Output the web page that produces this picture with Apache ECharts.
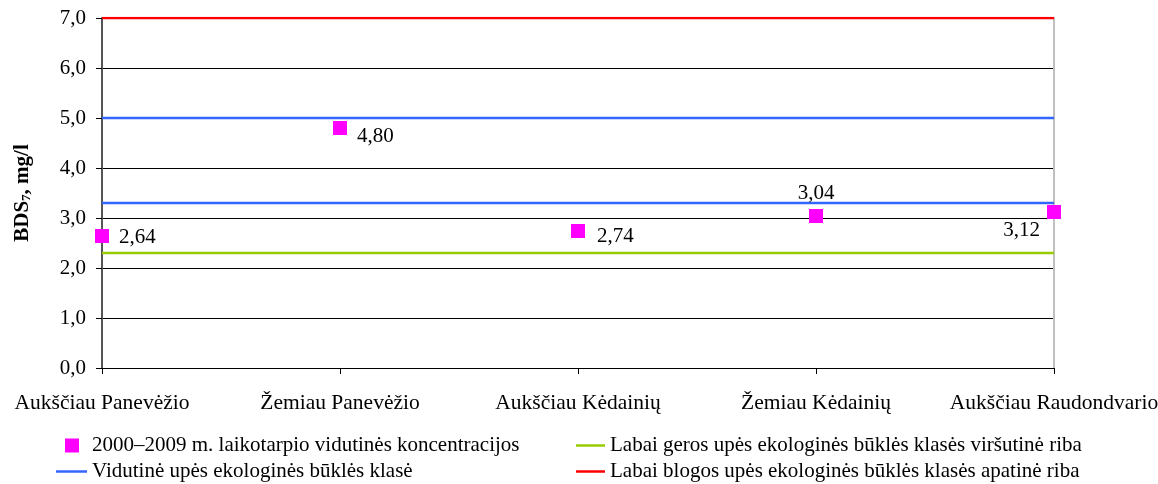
<!DOCTYPE html>
<html>
<head>
<meta charset="utf-8">
<script src="https://cdn.jsdelivr.net/npm/echarts@6/dist/echarts.min.js"></script>
<style>
  html, body { margin: 0; padding: 0; background: #fff; }
  #main { width: 1158px; height: 484px; }
</style>
</head>
<body>
<div id="main"></div>
<script>
var chartDom = document.getElementById('main');
var myChart = echarts.init(chartDom);

// data
var categories = ['Aukščiau Panevėžio', 'Žemiau Panevėžio', 'Aukščiau Kėdainių', 'Žemiau Kėdainių', 'Aukščiau Raudondvario'];
var concentrations = [2.64, 4.80, 2.74, 3.04, 3.12];
var goodUpper = [2.3, 2.3, 2.3, 2.3, 2.3];
var middleLow = [3.3, 3.3, 3.3, 3.3, 3.3];
var middleHigh = [5.0, 5.0, 5.0, 5.0, 5.0];
var badLower = [7.0, 7.0, 7.0, 7.0, 7.0];

var nameScatter = '2000–2009 m. laikotarpio vidutinės koncentracijos';
var nameGreen = 'Labai geros upės ekologinės būklės klasės viršutinė riba';
var nameBlue = 'Vidutinė upės ekologinės būklės klasė';
var nameRed = 'Labai blogos upės ekologinės būklės klasės apatinė riba';

var font = 'Liberation Serif';
var fs = 21;

// label placement per point, like in the original
var labelPos = [
  { position: 'right', offset: [5, 1] },
  { position: 'right', offset: [5, 8] },
  { position: 'right', offset: [7, 5] },
  { position: 'top', offset: [0, 0] },
  { position: 'left', offset: [-2, 18] }
];

var scatterData = concentrations.map(function (v, i) {
  return { value: v, label: labelPos[i] };
});

function refLine(name, data, color) {
  return {
    name: name,
    type: 'line',
    data: data,
    symbol: 'none',
    silent: true,
    lineStyle: { color: color, width: 2.5 },
    itemStyle: { color: color },
    z: 3
  };
}

// one legend block per entry so they sit like the original two columns
function legendItem(left, top, name, icon, w, h, padLeft) {
  return {
    left: left, top: top, padding: 0, orient: 'horizontal',
    itemWidth: w, itemHeight: h, itemGap: 0,
    textStyle: { fontFamily: font, fontSize: fs, color: '#000', padding: [0, 0, 0, padLeft || 0] },
    data: [{ name: name, icon: icon }]
  };
}

var option = {
  animation: false,
  textStyle: { fontFamily: font },
  grid: { left: 102, right: 104, top: 18, bottom: 116, outerBoundsMode: 'none' },
  legend: [
    legendItem(65, 435, nameScatter, 'rect', 14, 14, 8),
    legendItem(56, 461, nameBlue, 'path://M0,6 H31 V8.5 H0 Z', 31, 14),
    legendItem(576, 435, nameGreen, 'path://M0,6 H29 V8.5 H0 Z', 29, 14),
    legendItem(576, 461, nameRed, 'path://M0,6 H29 V8.5 H0 Z', 29, 14)
  ],
  xAxis: {
    type: 'category',
    data: categories,
    boundaryGap: false,
    axisLine: { lineStyle: { color: '#000', width: 1 } },
    axisTick: { show: true, length: 6, lineStyle: { color: '#000' } },
    axisLabel: { fontFamily: font, fontSize: 21.5, color: '#000', margin: 24, interval: 0 },
    splitLine: { show: false }
  },
  yAxis: [
    {
      type: 'value',
      min: 0, max: 7, interval: 1,
      name: '{b|BDS}{s|7}{b|, mg/l}',
      nameLocation: 'middle',
      nameGap: 69,
      nameRotate: 90,
      nameTextStyle: {
        rich: {
          b: { fontFamily: font, fontSize: fs, fontWeight: 'bold', color: '#000' },
          s: { fontFamily: font, fontSize: 13, fontWeight: 'bold', color: '#000', verticalAlign: 'bottom', padding: [8, 0, 0, 0] }
        }
      },
      axisLine: { show: true, lineStyle: { color: '#555', width: 2 } },
      axisTick: { show: true, length: 6, lineStyle: { color: '#000' } },
      axisLabel: {
        fontFamily: font, fontSize: fs, color: '#000', margin: 16,
        formatter: function (v) { return v.toFixed(1).replace('.', ','); }
      },
      splitLine: { show: true, lineStyle: { color: '#000', width: 1 } }
    },
    {
      type: 'value',
      min: 0, max: 7, interval: 1,
      position: 'right',
      axisLine: { show: true, lineStyle: { color: '#c0c0c0', width: 2 } },
      axisTick: { show: false },
      axisLabel: { show: false },
      splitLine: { show: false }
    }
  ],
  series: [
    refLine(nameGreen, goodUpper, '#99CC00'),
    refLine(nameBlue, middleLow, '#3366FF'),
    refLine(nameBlue, middleHigh, '#3366FF'),
    refLine(nameRed, badLower, '#FF0000'),
    {
      name: nameScatter,
      type: 'scatter',
      data: scatterData,
      symbol: 'rect',
      symbolSize: 14,
      itemStyle: { color: '#FF00FF', opacity: 1 },
      label: {
        show: true,
        fontFamily: font, fontSize: fs, color: '#000',
        formatter: function (p) { return p.value.toFixed(2).replace('.', ','); }
      },
      z: 5
    }
  ]
};

myChart.setOption(option);
</script>
</body>
</html>
